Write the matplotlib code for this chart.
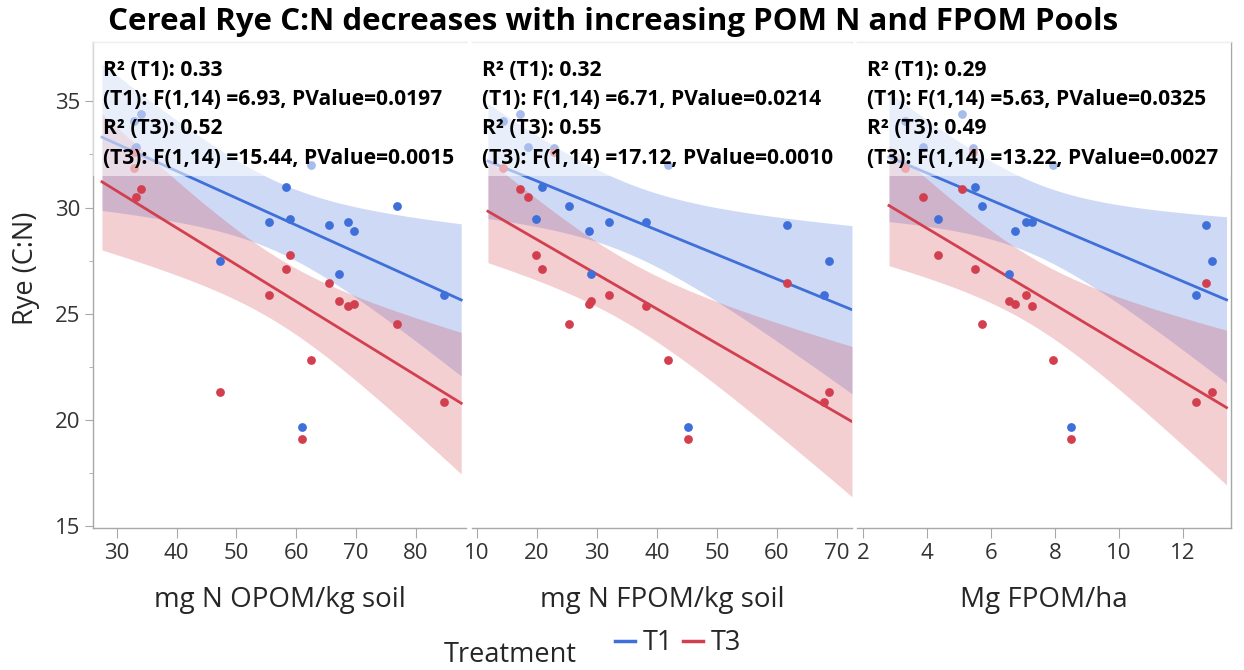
import numpy as np
import matplotlib
matplotlib.use("Agg")
import matplotlib.pyplot as plt
from matplotlib.lines import Line2D

plt.rcParams['font.family'] = ['Open Sans', 'DejaVu Sans']

# Rye C:N per plot, one entry per site, same order in every array
rye_t1 = [34.1, 34.4, 32.85, 32.0, 30.96, 29.3, 29.45, 29.17, 29.3, 28.9, 30.06, 26.85, 27.5, 25.9, 19.64, 32.8]
rye_t3 = [31.86, 30.86, 30.5, 22.8, 27.1, 25.9, 27.75, 26.45, 25.35, 25.46, 24.5, 25.6, 21.3, 20.83, 19.1, 32.6]

opom_n = [32.8, 34.0, 33.2, 62.5, 58.3, 55.5, 58.9, 65.5, 68.6, 69.7, 76.8, 67.2, 47.3, 84.8, 61.0, 33.0]
fpom_n = [14.35, 17.2, 18.45, 41.9, 20.9, 32.0, 19.8, 61.7, 38.25, 28.65, 25.3, 29.1, 68.6, 67.9, 45.2, 22.8]
fpom_mass = [3.30, 5.08, 3.87, 7.92, 5.48, 7.08, 4.32, 12.72, 7.27, 6.74, 5.71, 6.55, 12.9, 12.42, 8.50, 5.43]

x_labels = ["mg N OPOM/kg soil", "mg N FPOM/kg soil", "Mg FPOM/ha"]
x_limits = [(26.0, 88.4), (9.2, 72.5), (1.8, 13.5)]
x_ticks = [[30, 40, 50, 60, 70, 80], [10, 20, 30, 40, 50, 60, 70], [2, 4, 6, 8, 10, 12]]
fit_spans = [(27.5, 87.6), (11.85, 72.5), (2.8, 13.36)]

stats_text = [
    ["R² (T1): 0.33", "(T1): F(1,14) =6.93, PValue=0.0197",
     "R² (T3): 0.52", "(T3): F(1,14) =15.44, PValue=0.0015"],
    ["R² (T1): 0.32", "(T1): F(1,14) =6.71, PValue=0.0214",
     "R² (T3): 0.55", "(T3): F(1,14) =17.12, PValue=0.0010"],
    ["R² (T1): 0.29", "(T1): F(1,14) =5.63, PValue=0.0325",
     "R² (T3): 0.49", "(T3): F(1,14) =13.22, PValue=0.0027"],
]

C_T1 = "#3f6fd9"
C_T3 = "#d2404f"
GRID_GRAY = "#a8a8a8"
TEXT_GRAY = "#262626"
T_CRIT = 2.145  # t(0.975, 14)


def fit_with_band(ax, x, y, span, color):
    x = np.asarray(x, float)
    y = np.asarray(y, float)
    n = len(x)
    b, a = np.polyfit(x, y, 1)
    resid = y - (a + b * x)
    s = np.sqrt(np.sum(resid ** 2) / (n - 2))
    sxx = np.sum((x - x.mean()) ** 2)
    xs = np.linspace(span[0], span[1], 200)
    ys = a + b * xs
    half = T_CRIT * s * np.sqrt(1.0 / n + (xs - x.mean()) ** 2 / sxx)
    ax.fill_between(xs, ys - half, ys + half, color=color, alpha=0.25, lw=0, zorder=1)
    ax.plot(xs, ys, color=color, lw=2, zorder=3)


fig = plt.figure(figsize=(12.44, 6.70), dpi=100)
lefts = [93, 472, 857]
rights = [466, 852, 1231]
top_px, bot_px = 42, 528
W, H = 1244, 670

xs_all = [opom_n, fpom_n, fpom_mass]
for i in range(3):
    ax = fig.add_axes([lefts[i] / W, 1 - bot_px / H, (rights[i] - lefts[i]) / W, (bot_px - top_px) / H])
    ax.scatter(xs_all[i], rye_t1, s=40, color=C_T1, lw=0, zorder=4)
    ax.scatter(xs_all[i], rye_t3, s=40, color=C_T3, lw=0, zorder=4)
    fit_with_band(ax, xs_all[i], rye_t1, fit_spans[i], C_T1)
    fit_with_band(ax, xs_all[i], rye_t3, fit_spans[i], C_T3)

    # faded box behind the statistics text
    ax.add_patch(plt.Rectangle((0, 0.724), 1, 0.276, transform=ax.transAxes,
                               facecolor="white", alpha=0.55, lw=0, zorder=5))
    for k, line in enumerate(stats_text[i]):
        ax.annotate(line, xy=(0, 1), xycoords="axes fraction",
                    xytext=(10, -28 - k * 29.5), textcoords="offset pixels",
                    fontsize=15.1, fontweight="bold", color="black",
                    va="center", ha="left", zorder=6)

    ax.set_xlim(*x_limits[i])
    ax.set_ylim(14.9, 37.8)
    ax.set_xticks(x_ticks[i])
    ax.set_xlabel(x_labels[i], fontsize=20, color=TEXT_GRAY, va="center")
    ax.xaxis.set_label_coords(0.5, -0.148)
    ax.tick_params(axis="x", direction="out", length=7, color=GRID_GRAY,
                   labelsize=16, labelcolor="#333333", pad=4)
    for side in ["top", "right", "bottom", "left"]:
        ax.spines[side].set_color(GRID_GRAY)
        ax.spines[side].set_linewidth(1)
    ax.spines["right"].set_visible(i == 2)
    ax.spines["top"].set_color("#dddddd")
    if i == 0:
        ax.set_yticks([15, 20, 25, 30, 35])
        ax.set_yticks([17.5, 22.5, 27.5, 32.5], minor=True)
        ax.tick_params(axis="y", which="major", direction="out", length=6,
                       color=GRID_GRAY, labelsize=16, labelcolor="#333333", pad=3)
        ax.tick_params(axis="y", which="minor", direction="out", length=3, color=GRID_GRAY)
        ax.set_ylabel("Rye (C:N)", fontsize=19.5, color=TEXT_GRAY, va="center")
        ax.yaxis.set_label_coords(-0.18, 0.535)
    else:
        ax.spines["left"].set_visible(False)
        ax.set_yticks([])

fig.text(0.493, 1 - 22 / H, "Cereal Rye C:N decreases with increasing POM N and FPOM Pools",
         ha="center", va="center", fontsize=22.5, fontweight="bold")

fig.text(444 / W, 1 - 655 / H, "Treatment", ha="left", va="center", fontsize=19.5, color=TEXT_GRAY)
handles = [Line2D([0], [0], color=C_T1, lw=2.5), Line2D([0], [0], color=C_T3, lw=2.5)]
fig.legend(handles, ["T1", "T3"], loc="center left", bbox_to_anchor=(615 / W, 1 - 643 / H),
           ncol=2, frameon=False, fontsize=19.5, handlelength=0.75, handletextpad=0.28,
           columnspacing=0.35, labelcolor=TEXT_GRAY, borderaxespad=0, borderpad=0)

fig.savefig("out.png", dpi=100)
